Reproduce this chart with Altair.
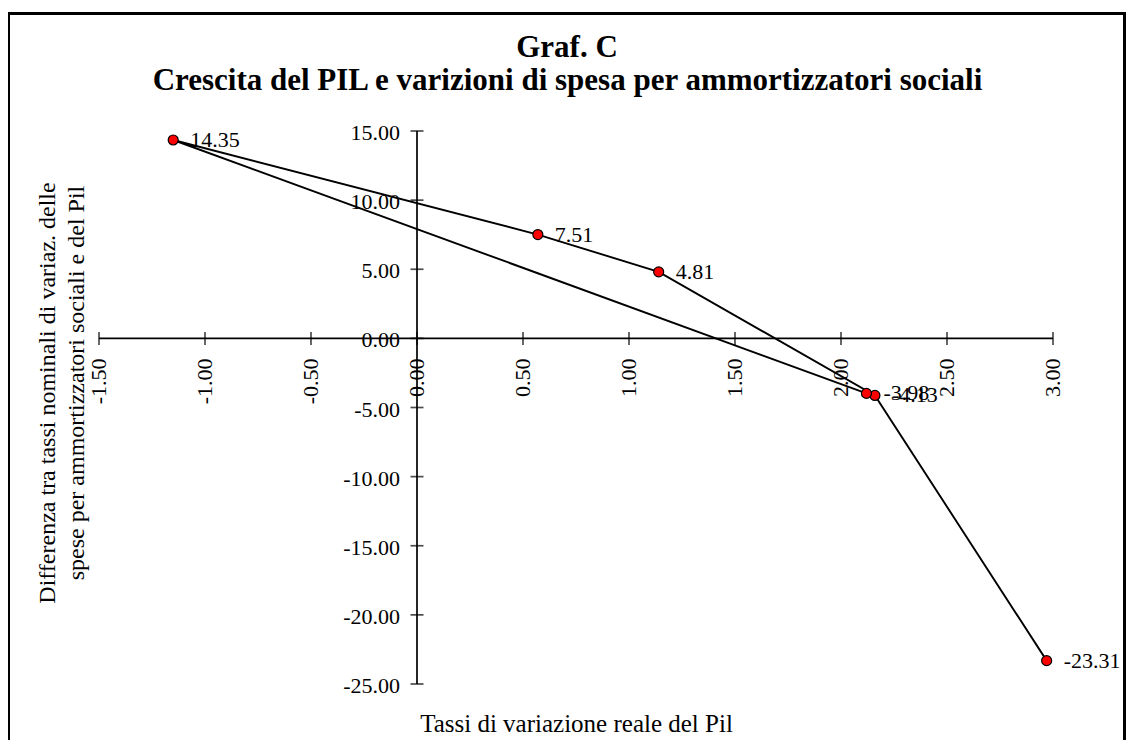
import altair as alt
import pandas as pd

FONT = "Liberation Serif"

# ---- data ----
gdp = [2.97, 2.16, 1.14, 0.57, -1.15, 2.12]          # Tassi di variazione reale del Pil
spesa = [-23.31, -4.13, 4.81, 7.51, 14.35, -3.98]     # Differenza tassi
order = [1, 2, 3, 4, 5, 6]
x_ticks = [-1.5, -1.0, -0.5, 0.0, 0.5, 1.0, 1.5, 2.0, 2.5, 3.0]
y_ticks = [-25, -20, -15, -10, -5, 0, 5, 10, 15]

title_lines = ["Graf. C", "Crescita del PIL e varizioni di spesa per ammortizzatori sociali"]
x_title = "Tassi di variazione reale del Pil"
y_title = ["Differenza tra tassi nominali di variaz. delle",
           "spese per ammortizzatori sociali e del Pil"]

df = pd.DataFrame({"gdp": gdp, "spesa": spesa, "ord": order})
df["lab"] = [f"{v:.2f}" for v in spesa]
dx_t = pd.DataFrame({"v": x_ticks, "lab": [f"{v:.2f}" for v in x_ticks]})
dy_t = pd.DataFrame({"v": y_ticks, "lab": [f"{v:.2f}" for v in y_ticks]})

W, H = 954, 553
xs = alt.Scale(domain=[-1.5, 3.0], nice=False, zero=False)
ys = alt.Scale(domain=[-25, 15], nice=False, zero=False)


def X(f):
    return alt.X(f, scale=xs, axis=None)


def Y(f):
    return alt.Y(f, scale=ys, axis=None)


base = alt.Chart(df)

line = base.mark_line(color="black", strokeWidth=1.9).encode(
    x=X("gdp:Q"), y=Y("spesa:Q"), order="ord:Q")

pts = base.mark_circle(size=100, color="#FF0000", stroke="black", strokeWidth=1.2,
                       opacity=1).encode(x=X("gdp:Q"), y=Y("spesa:Q"))

labels = base.mark_text(align="left", baseline="middle", dx=17, font=FONT,
                        fontSize=22, color="black").encode(
    x=X("gdp:Q"), y=Y("spesa:Q"), text="lab:N")

# axis lines crossing at zero
x_dom = alt.Chart(pd.DataFrame({"a": [x_ticks[0]], "b": [x_ticks[-1]]})).mark_rule(
    color="black", strokeWidth=1.7).encode(
    x=X("a:Q"), x2="b:Q", y=alt.Y(datum=0, scale=ys, axis=None))
y_dom = alt.Chart(pd.DataFrame({"a": [y_ticks[0]], "b": [y_ticks[-1]]})).mark_rule(
    color="black", strokeWidth=1.7).encode(
    y=Y("a:Q"), y2="b:Q", x=alt.X(datum=0, scale=xs, axis=None))

# crossing ticks
xt = alt.Chart(dx_t).mark_tick(orient="vertical", size=13, thickness=1.7,
                               color="black").encode(
    x=X("v:Q"), y=alt.Y(datum=0, scale=ys, axis=None))
yt = alt.Chart(dy_t).mark_tick(orient="horizontal", size=13, thickness=1.7,
                               color="black").encode(
    y=Y("v:Q"), x=alt.X(datum=0, scale=xs, axis=None))

# tick labels
xl = alt.Chart(dx_t).mark_text(angle=270, align="right", baseline="middle", dx=-20,
                               font=FONT, fontSize=22, color="black").encode(
    x=X("v:Q"), y=alt.Y(datum=0, scale=ys, axis=None), text="lab:N")
yl = alt.Chart(dy_t).mark_text(align="right", baseline="middle", dx=-17, dy=2,
                               font=FONT, fontSize=22, color="black").encode(
    y=Y("v:Q"), x=alt.X(datum=0, scale=xs, axis=None), text="lab:N")


def txt(s, x, y, size, bold=False, angle=0, baseline="alphabetic"):
    return alt.Chart(pd.DataFrame({"t": [s]})).mark_text(
        font=FONT, fontSize=size, fontWeight="bold" if bold else "normal",
        color="black", align="center", baseline=baseline, angle=angle,
    ).encode(text="t:N", x=alt.value(x), y=alt.value(y))


t1 = txt(title_lines[0], 468, -74, 31, bold=True)
t2 = txt(title_lines[1], 468.5, -41, 31, bold=True)
xt_title = txt(x_title, 477.5, 601, 25)
yt1 = txt(y_title[0], -44, 262, 24, angle=270)
yt2 = txt(y_title[1], -15, 252, 24, angle=270)

frame = alt.Chart(pd.DataFrame({"f": [0]})).mark_rect(
    fillOpacity=0, stroke="black", strokeWidth=3).encode(
    x=alt.value(-90.5), x2=alt.value(1025.5), y=alt.value(-117.5), y2=alt.value(640))

chart = alt.layer(frame, x_dom, y_dom, xt, yt, xl, yl, line, pts, labels,
                  t1, t2, xt_title, yt1, yt2).properties(
    width=W, height=H,
    padding={"left": 91, "top": 123, "right": 73, "bottom": 56},
    autosize=alt.AutoSizeParams(type="none"),
    background="white",
).configure_view(stroke=None)

chart.save("out.html", embed_options={"renderer": "svg", "actions": False})
